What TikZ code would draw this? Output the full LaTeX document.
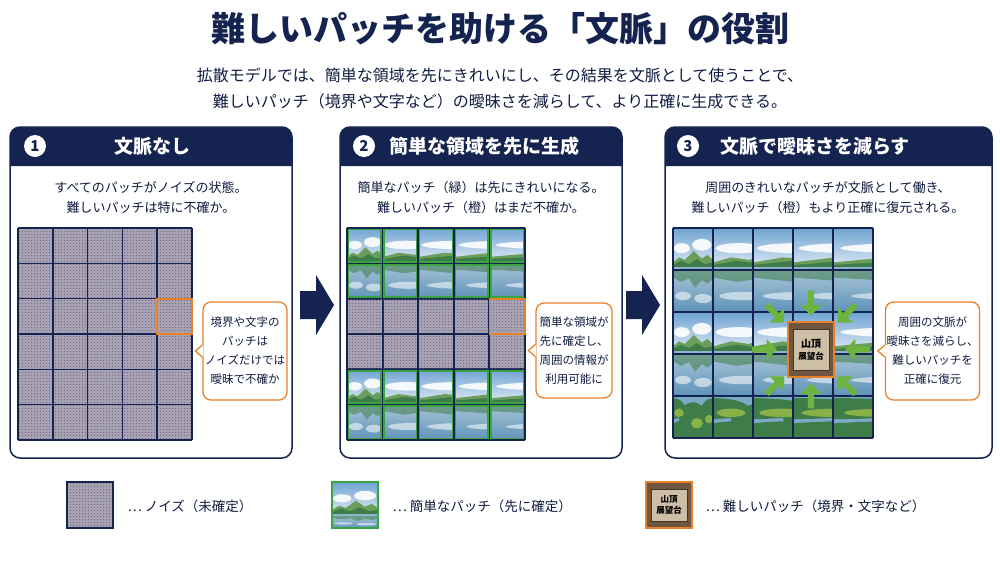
\documentclass[tikz,border=0pt]{standalone}
\usepackage{fontspec}
\setmainfont{Noto Sans CJK JP}
\usetikzlibrary{shapes.arrows,patterns,calc}
\definecolor{navy}{HTML}{14234F}
\definecolor{org}{HTML}{E8812A}
\definecolor{grn}{HTML}{3BA33F}
\definecolor{lgrn}{HTML}{6DB33F}
\definecolor{skyT}{HTML}{6FA3D2}
\definecolor{skyB}{HTML}{E6EEF5}
\definecolor{mtn}{HTML}{3E7D4A}
\definecolor{mtn2}{HTML}{6A9E5A}
\definecolor{watT}{HTML}{A9C4D6}
\definecolor{watB}{HTML}{5E93B8}
\definecolor{noisebg}{HTML}{A4A4B0}
\definecolor{wood}{HTML}{6E5640}
\definecolor{board}{HTML}{CDBFA6}
\tikzset{
  panel/.style={draw=navy,line width=1.5pt,fill=white,rounded corners=10pt},
  hdr/.style={text=white,font=\bfseries\fontsize{19}{22}\selectfont},
  num/.style={circle,fill=white,text=navy,inner sep=0pt,minimum size=22pt,font=\bfseries\fontsize{15}{15}\selectfont},
  body/.style={text=navy!80!black,align=center,font=\fontsize{13}{20}\selectfont},
  callout/.style={draw=org,line width=1.3pt,fill=white,rounded corners=8pt,align=center,text=navy!80!black,font=\fontsize{11.5}{19}\selectfont,inner sep=0pt},
  gline/.style={draw=navy,line width=1.6pt},
  garr/.style={single arrow,fill=lgrn,minimum height=25pt,minimum width=21pt,single arrow head extend=4pt,inner sep=1.5pt},
  leg/.style={anchor=west,text=navy!80!black,font=\fontsize{13.5}{16}\selectfont},
}
\newcommand\mtnband[4]{\begin{scope}\clip (#1,#2) rectangle (#3,#4);
 \begin{scope}[shift={(#1,#2)},xscale={(#3-#1)/100},yscale={(#4-#2)/100}]
 \shade[top color=skyT,bottom color=skyB] (0,0) rectangle (100,100);
 \fill[white,opacity=.9] (22,48) ellipse (20 and 12) (72,40) ellipse (24 and 14);
 \fill[mtn2] (0,82)--(15,70)--(30,76)--(52,55)--(72,73)--(86,64)--(100,76)--(100,100)--(0,100)--cycle;
 \fill[mtn] (0,88)--(20,78)--(40,86)--(60,74)--(80,86)--(100,82)--(100,100)--(0,100)--cycle;
 \fill[watB!70!white] (0,94) rectangle (100,100);
 \end{scope}\end{scope}}
\newcommand\watband[4]{\begin{scope}\clip (#1,#2) rectangle (#3,#4);
 \begin{scope}[shift={(#1,#2)},xscale={(#3-#1)/100},yscale={(#4-#2)/100}]
 \shade[top color=watT,bottom color=watB] (0,0) rectangle (100,100);
 \fill[mtn,opacity=.55] (0,0)--(0,18)--(20,28)--(40,20)--(55,42)--(72,24)--(86,32)--(100,22)--(100,0)--cycle;
 \fill[white,opacity=.55] (25,62) ellipse (20 and 10) (75,68) ellipse (22 and 11);
 \end{scope}\end{scope}}
\newcommand\bushband[4]{\begin{scope}\clip (#1,#2) rectangle (#3,#4);
 \begin{scope}[shift={(#1,#2)},xscale={(#3-#1)/100},yscale={(#4-#2)/100}]
 \fill[watB!80!white] (0,0) rectangle (100,100);
 \fill[mtn] (0,30) ellipse (30 and 25) (50,55) ellipse (35 and 40) (100,35) ellipse (30 and 30) (20,100) ellipse (40 and 40) (85,100) ellipse (40 and 45);
 \fill[mtn2!80!yellow] (15,40) ellipse (12 and 10) (60,65) ellipse (15 and 12) (90,55) ellipse (10 and 10);
 \end{scope}\end{scope}}
\newcommand\noisefill[4]{\fill[noisebg] (#1,#2) rectangle (#3,#4);
 \fill[pattern=crosshatch dots,pattern color=gray!70!violet] (#1,#2) rectangle (#3,#4);
 \fill[pattern=dots,pattern color=white!85!blue] (#1,#2) rectangle (#3,#4);}
\newcommand\signpic[4]{\fill[wood] (#1,#2) rectangle (#3,#4);
 \fill[board,draw=wood!60!black,line width=.6pt] ($(#1,#2)+(5,7)$) rectangle ($(#3,#4)+(-5,-7)$);}
\begin{document}
\begin{tikzpicture}[x=1pt,y=-1pt]
\useasboundingbox (0,0) rectangle (1000,563);
\fill[white] (0,0) rectangle (1000,563);
% title
\node[text=navy,font=\bfseries\fontsize{34}{36}\selectfont] (title) at (500,29) {難しいパッチを助ける「文脈」の役割};
\node[text=navy!85!black,align=center,font=\fontsize{16}{26}\selectfont] (sub) at (500,88)
 {拡散モデルでは、簡単な領域を先にきれいにし、その結果を文脈として使うことで、\\難しいパッチ（境界や文字など）の曖昧さを減らして、より正確に生成できる。};
% panels
\foreach \a/\b/\n in {10/292/p1,340/622/p2,665/992/p3}{
 \draw[panel] (\a,127) rectangle (\b,458);
 \fill[navy] (\a,166) {[rounded corners=10pt] -- (\a,127) -- (\b,127)} -- (\b,166) -- cycle;
}
\node[num] (n1) at (35,146) {1};
\node[num] (n2) at (364,146) {2};
\node[num] (n3) at (688,146) {3};
\node[hdr] (h1) at (152,146) {文脈なし};
\node[hdr] (h2) at (484,146) {簡単な領域を先に生成};
\node[hdr] (h3) at (815,146) {文脈で曖昧さを減らす};
\node[body] (b1) at (151,198) {すべてのパッチがノイズの状態。\\難しいパッチは特に不確か。};
\node[body] (b2) at (481,198) {簡単なパッチ（緑）は先にきれいになる。\\難しいパッチ（橙）はまだ不確か。};
\node[body] (b3) at (828,198) {周囲のきれいなパッチが文脈として働き、\\難しいパッチ（橙）もより正確に復元される。};
% panel 1 grid
\noisefill{18}{228}{192}{440}
\foreach \i in {0,...,5}{\draw[gline] ({18+\i*34.8},228) -- ({18+\i*34.8},440);}
\foreach \j in {0,...,6}{\draw[gline] (18,{228+\j*35.33}) -- (192,{228+\j*35.33});}
\draw[org,line width=1.8pt] (157.2,298.7) rectangle (192,334);
% panel 2 grid
\fill[navy] (347,228) rectangle (525,440);
\foreach \i in {0,...,4}{
 \mtnband{347+\i*35.6}{228}{347+\i*35.6+35.6}{263.3}
 \watband{347+\i*35.6}{263.3}{347+\i*35.6+35.6}{298.7}
 \noisefill{347+\i*35.6+1}{299.7}{347+\i*35.6+34.6}{333}
 \noisefill{347+\i*35.6+1}{335}{347+\i*35.6+34.6}{368.3}
 \mtnband{347+\i*35.6}{369.3}{347+\i*35.6+35.6}{404.7}
 \watband{347+\i*35.6}{404.7}{347+\i*35.6+35.6}{440}}
\foreach \i in {0,...,5}{\draw[gline] ({347+\i*35.6},228) -- ({347+\i*35.6},440);}
\foreach \j in {0,...,6}{\draw[gline] (347,{228+\j*35.33}) -- (525,{228+\j*35.33});}
\foreach \i in {0,...,4}{\foreach \j in {0,1,4,5}{
 \draw[grn,line width=1.5pt] ({347+\i*35.6+1.5},{228+\j*35.33+1.5}) rectangle ({347+\i*35.6+34.1},{228+\j*35.33+33.8});}}
\draw[org,line width=1.8pt] (489.4,298.7) rectangle (525,334);
% panel 3 grid
\foreach \i in {0,...,4}{
 \mtnband{673+\i*40}{228}{713+\i*40}{270}
 \watband{673+\i*40}{270}{713+\i*40}{312}
 \mtnband{673+\i*40}{312}{713+\i*40}{354}
 \watband{673+\i*40}{354}{713+\i*40}{396}
 \bushband{673+\i*40}{396}{713+\i*40}{438}}
\foreach \i in {0,...,5}{\draw[gline] ({673+\i*40},228) -- ({673+\i*40},438);}
\foreach \j in {0,...,5}{\draw[gline] (673,{228+\j*42}) -- (873,{228+\j*42});}
\signpic{788}{322}{834}{377}
\draw[org,line width=2.2pt] (788,322) rectangle (834,377);
\node[font=\bfseries\fontsize{10}{13}\selectfont,align=center,text=black] (sign) at (811,349.5) {山頂\\[-1pt]{\fontsize{8.5}{10}\selectfont 展望台}};
\foreach \a/\r in {0/48,45/52,90/48,135/52,180/48,225/52,270/48,315/52}{
 \node[garr,rotate=\a+180] (ga\a) at ($(sign.center)+(\a:\r pt)$) {};}
% callouts
\node[callout,minimum width=84pt,minimum height=98pt] (c1) at (245,351) {境界や文字の\\パッチは\\ノイズだけでは\\曖昧で不確か};
\node[callout,minimum width=76pt,minimum height=95pt] (c2) at (574,350.5) {簡単な領域が\\先に確定し、\\周囲の情報が\\利用可能に};
\node[callout,minimum width=94pt,minimum height=98pt] (c3) at (932.5,351) {周囲の文脈が\\曖昧さを減らし、\\難しいパッチを\\正確に復元};
\foreach \c in {c1,c2,c3}{
 \fill[white] ($(\c.west)+(1,-6)$) -- ($(\c.west)+(-7,0)$) -- ($(\c.west)+(1,6)$) -- cycle;
 \draw[org,line width=1.3pt] ($(\c.west)+(0,-6)$) -- ($(\c.west)+(-7,0)$) -- ($(\c.west)+(0,6)$);}
% big arrows
\foreach \x in {300,626}{
 \fill[navy] (\x,291) -- (\x+16,291) -- (\x+16,275) -- (\x+34,305) -- (\x+16,335) -- (\x+16,319) -- (\x,319) -- cycle;}
% legend
\noisefill{67}{482}{113}{528}
\draw[navy,line width=1.2pt] (67,482) rectangle (113,528);
\node[leg] (l1) at (124,506) {… ノイズ（未確定）};
\mtnband{332}{482}{378}{516}
\watband{332}{516}{378}{528}
\draw[grn,line width=2pt] (332,482) rectangle (378,528);
\node[leg] (l2) at (389,506) {… 簡単なパッチ（先に確定）};
\signpic{646}{482}{692}{528}
\draw[org,line width=2pt] (646,482) rectangle (692,528);
\node[font=\bfseries\fontsize{8.5}{11}\selectfont,align=center,text=black] (ls) at (669,505) {山頂\\展望台};
\node[leg] (l3) at (702,506) {… 難しいパッチ（境界・文字など）};
\end{tikzpicture}
\end{document}
